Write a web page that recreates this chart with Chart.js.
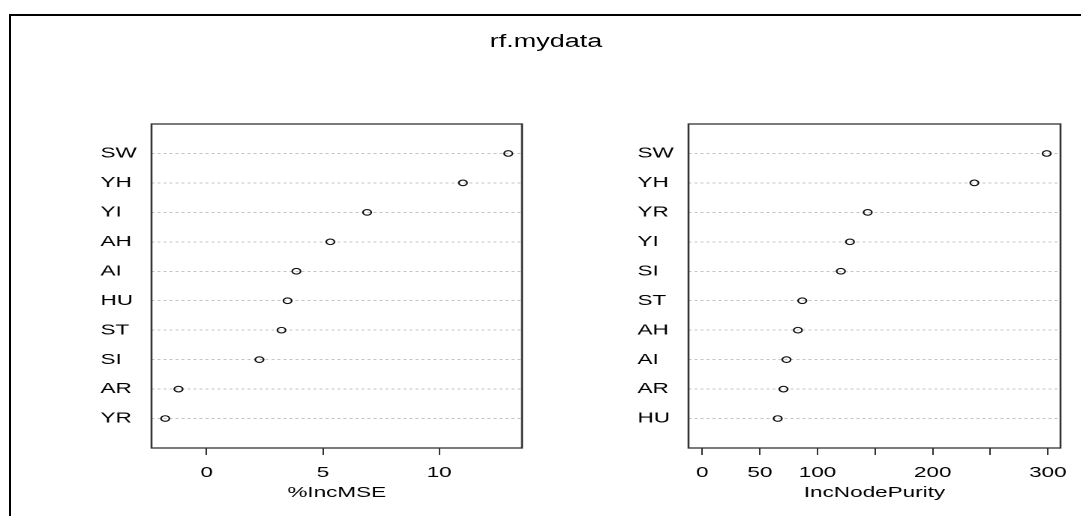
<!DOCTYPE html>
<html lang="en">
<head>
  <title>rf.mydata</title>
  <script src="https://cdn.jsdelivr.net/npm/chart.js"></script>
  <style>
    html, body { margin: 0; padding: 0; background: #fff; overflow: hidden; }
    body { width: 1081px; height: 516px; position: relative; font-family: "Liberation Sans", Arial, sans-serif; }
    .frame { position: absolute; left: 9px; top: 14px; right: -10px; bottom: -10px; border-top: 2px solid #000; border-left: 2px solid #000; }
    /* the reference picture is stretched sideways, so the whole plot is drawn narrow and scaled */
    #stage { position: absolute; left: 0; top: 0; width: 721px; height: 516px; transform: scaleX(1.5); transform-origin: 0 0; }
    .title { position: absolute; left: 0; width: 728px; top: 31px; text-align: center; font-size: 18px; line-height: 20px; color: #000; }
    .panel { position: absolute; top: 115px; height: 401px; }
    #left-panel { left: 66.7px; width: 291px; }
    #right-panel { left: 425.3px; width: 296px; }
  </style>
</head>
<body>
<div class="frame"></div>
<div id="stage">
  <div class="title">rf.mydata</div>
  <div class="panel" id="left-panel"><canvas id="mseChart"></canvas></div>
  <div class="panel" id="right-panel"><canvas id="purityChart"></canvas></div>
</div>
<script>
  // %IncMSE panel
  const mseNames = ['SW', 'YH', 'YI', 'AH', 'AI', 'HU', 'ST', 'SI', 'AR', 'YR'];
  const mseValues = [12.97, 11.02, 6.90, 5.32, 3.86, 3.48, 3.22, 2.27, -1.21, -1.78];
  const mseTicks = [0, 5, 10];
  const mseTickLabels = ['0', '5', '10'];

  // IncNodePurity panel
  const purityNames = ['SW', 'YH', 'YR', 'YI', 'SI', 'ST', 'AH', 'AI', 'AR', 'HU'];
  const purityValues = [299.0, 236.2, 143.6, 128.2, 120.3, 86.8, 83.0, 73.1, 70.5, 65.5];
  const purityTicks = [0, 50, 100, 150, 200, 250, 300];
  const purityTickLabels = ['0', '50', '100', '', '200', '', '300'];

  const textColor = '#000';
  const font = { family: '"Liberation Sans", Arial, sans-serif', size: 15 };

  // R pads the data range by 4% on each side
  function extendRange(lo, hi) {
    const d = (hi - lo) * 0.04;
    return [lo - d, hi + d];
  }

  const boxPlugin = {
    id: 'box',
    afterDraw(chart) {
      const { ctx, chartArea: a } = chart;
      ctx.save();
      ctx.strokeStyle = '#333';
      ctx.lineWidth = 1.3;
      ctx.strokeRect(a.left, a.top, a.right - a.left, a.bottom - a.top);
      ctx.restore();
    }
  };

  function makeDotChart(id, names, values, range, ticks, tickLabels, title, padRight) {
    const ctx = document.getElementById(id).getContext('2d');
    return new Chart(ctx, {
      type: 'scatter',
      data: {
        datasets: [{
          data: values.map((v, i) => ({ x: v, y: i })),
          pointRadius: 2.8,
          pointHoverRadius: 2.8,
          pointBorderWidth: 1.1,
          borderColor: '#111',
          backgroundColor: 'rgba(0,0,0,0)'
        }]
      },
      options: {
        responsive: true,
        maintainAspectRatio: false,
        animation: false,
        devicePixelRatio: 2,
        layout: { padding: { top: 9, right: padRight, bottom: 0, left: 0 } },
        plugins: { legend: { display: false }, tooltip: { enabled: false } },
        scales: {
          x: {
            type: 'linear',
            min: range[0],
            max: range[1],
            afterBuildTicks: s => { s.ticks = ticks.map(v => ({ value: v })); },
            afterFit: s => { s.height = 68; },
            ticks: {
              callback: (v, i) => tickLabels[i],
              padding: 9,
              maxRotation: 0,
              autoSkip: false,
              color: textColor,
              font: font
            },
            grid: { drawOnChartArea: false, drawTicks: true, tickLength: 7, color: '#333', lineWidth: 1 },
            border: { display: false },
            title: { display: true, text: title, color: textColor, font: font, padding: { top: 0, bottom: 14 } }
          },
          y: {
            type: 'linear',
            reverse: true,
            min: -1,
            max: names.length,
            afterBuildTicks: s => { s.ticks = names.map((n, i) => ({ value: i })); },
            afterFit: s => { s.width = 34; },
            ticks: {
              callback: v => names[v],
              crossAlign: 'far',
              padding: 0,
              autoSkip: false,
              color: textColor,
              font: font
            },
            grid: { drawTicks: false, color: '#c4c4c4', lineWidth: 1 },
            border: { display: false, dash: [2, 2] }
          }
        }
      },
      plugins: [boxPlugin]
    });
  }

  makeDotChart('mseChart', mseNames, mseValues,
    extendRange(Math.min(...mseValues), Math.max(...mseValues)),
    mseTicks, mseTickLabels, '%IncMSE', 10);

  makeDotChart('purityChart', purityNames, purityValues,
    extendRange(0, Math.max(...purityValues)),
    purityTicks, purityTickLabels, 'IncNodePurity', 14);
</script>
</body>
</html>
